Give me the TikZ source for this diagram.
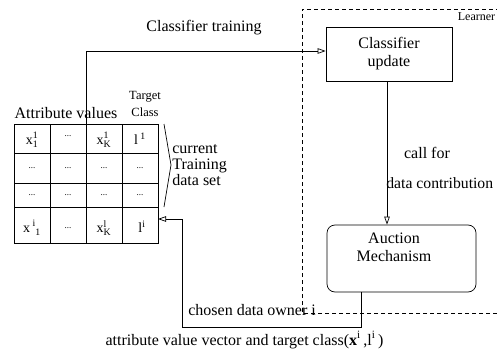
\documentclass[tikz,border=0pt]{standalone}
\usepackage{fontspec}
\usepackage{amsmath}
\setmainfont{Liberation Serif}
\usetikzlibrary{arrows.meta}
\begin{document}
\begin{tikzpicture}[x=1pt,y=-1pt, line width=0.7pt,
  lbl/.style={font=\fontsize{16}{16}\selectfont, inner sep=0pt},
  smalllbl/.style={font=\fontsize{12.5}{13}\selectfont, inner sep=0pt},
  cell/.style={font=\fontsize{14}{15}\selectfont, inner sep=0pt},
  dots/.style={font=\fontsize{9}{10}\selectfont, inner sep=0pt},
  openarrow/.style={-{Triangle[open,length=8pt,width=5.5pt]}},
  dashbox/.style={dash pattern=on 4pt off 3pt}]
\useasboundingbox (0,0) rectangle (497,350);

% Learner dashed frame
\draw[dashbox] (497,313) -- (302,313) -- (302,9) -- (497,9);
\node[font=\fontsize{12}{13}\selectfont, inner sep=0pt] (learner) at (476.5,17) {Learner};

% table
\draw (14,124) rectangle (158,243);
\foreach \xx in {50,86,122} \draw (\xx,124) -- (\xx,243);
\foreach \yy in {153,183,207} \draw (14,\yy) -- (158,\yy);
\coordinate (coltop) at (86,124);
\coordinate (tabin) at (158,219);

\node[lbl] (attr) at (66,113) {Attribute values};
\node[smalllbl, align=center] (tc) at (145,104) {Target\\[4pt]Class};

\node[cell] (c11) at (32,140) {x$^{\text{1}}_{\text{1}}$};
\node[dots] (c12) at (68,136) {...};
\node[cell] (c13) at (104,140) {x$^{\text{1}}_{\text{K}}$};
\node[cell] (c14) at (140,139) {l\,$^{\text{1}}$};
\foreach \cx [count=\k] in {32,68,104,140} {
  \node[dots] (r2c\k) at (\cx,168) {...};
  \node[dots] (r3c\k) at (\cx,195) {...};
}
\node[cell] (c41) at (32,228) {x\,$^{\text{i}}_{\;\text{1}}$};
\node[dots] (c42) at (68,228) {...};
\node[cell] (c43) at (104,228) {x$^{\text{l}}_{\text{K}}$};
\node[cell] (c44) at (142,227) {l$^{\text{i}}$};

% brace
\draw (164,124) -- (171,165) -- (164,207);
\node[lbl, align=left, anchor=west] (cur) at (172,165) {current\\Training\\data set};

% classifier box
\node[draw, lbl, align=center, minimum width=126pt, minimum height=54pt] (cu) at (389,54) {Classifier\\[2pt]update};
\node[lbl] (ct) at (204,28) {Classifier training};
\draw[openarrow] (coltop) |- ([yshift=3pt]cu.west);

% auction box
\node[draw, rounded corners=8pt, minimum width=149pt, minimum height=67pt] (am) at (401.5,258.5) {};
\node[lbl, align=center] (amt) at (394,247) {Auction\\[2pt]Mechanism};
\draw[openarrow] ([xshift=-2pt]cu.south) -- ([xshift=-2pt]cu.south |- am.north);
\node[lbl] (cf) at (427,153) {call for};
\node[lbl, anchor=west, font=\fontsize{15.7}{16}\selectfont] (dc) at (386,183) {data contribution};

% return path
\coordinate (turn) at (182,327);
\draw[openarrow] ([xshift=35pt]am.south west) |- (turn) |- (tabin);
\node[lbl, anchor=base west] (cho) at (188,315) {chosen data owner i};
\node[lbl] (avv) at (244.5,340) {attribute value vector and target class(\textbf{x}\textsuperscript{i}\,,l\textsuperscript{i}\,)};
\end{tikzpicture}
\end{document}
